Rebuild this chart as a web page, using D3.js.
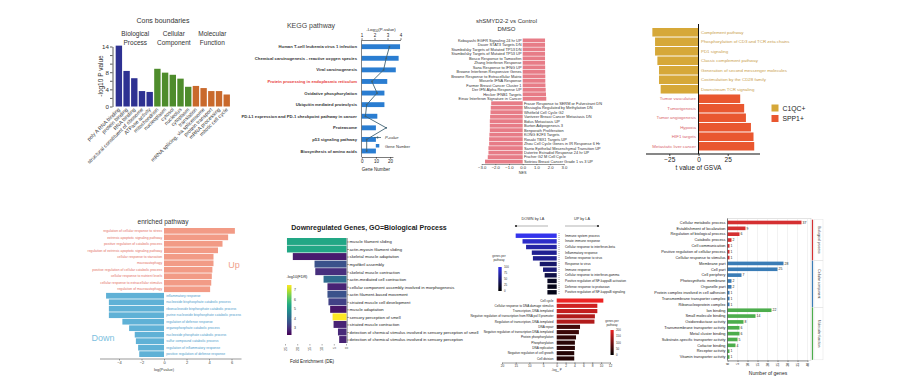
<!DOCTYPE html>
<html><head><meta charset="utf-8">
<script src="https://cdn.jsdelivr.net/npm/d3@7"></script>
<style>body{margin:0;background:#fff} svg{display:block}</style>
</head><body><script>
// ---------------- DATA ----------------
// Panel 1: Cons boundaries
const p1Terms = ["poly A RNA binding","protein binding","RNA binding","structural constituent of ribosome","ATPase activity","mitochondrion","nucleoplasm","cytosol","nucleolus","cytoplasm","translation","mRNA splicing, via spliceosome","protein transport","mRNA processing","mitotic cell cycle"];
const p1LogP = [14.2,8.3,6.6,3.6,3.4,8.8,7.9,7.4,6.5,4.6,4.8,4.3,3.6,3.6,2.8];
const p1Category = ["BP","BP","BP","BP","BP","CC","CC","CC","CC","CC","MF","MF","MF","MF","MF"];
const p1CategoryNames = {BP:["Biological","Process"],CC:["Cellular","Component"],MF:["Molecular","Function"]};
const p1TickLabels = [0,4,8,14];

// Panel 2: KEGG pathway
const p2Pathways = ["Human T-cell leukemia virus 1 infection","Chemical carcinogenesis - reactive oxygen species","Viral carcinogenesis","Protein processing in endoplasmic reticulum","Oxidative phosphorylation","Ubiquitin mediated proteolysis","PD-L1 expression and PD-1 checkpoint pathway in cancer","Proteasome","p53 signaling pathway","Biosynthesis of amino acids"];
const p2GeneNumber = [27,26,24,18,16,16,11,10,10,10];
const p2NegLogP = [3.15,2.9,2.7,1.8,2.2,1.4,1.3,2.9,1.4,1.4];
const p2Highlighted = ["Protein processing in endoplasmic reticulum"];
const p2TopTicks = [1,2,3,4];
const p2BottomTicks = [0,10,20];

// Panel 3: shSMYD2-2 vs Control DMSO
const p3Sets = ["Kobayashi EGFR Signaling 24 hr UP","Dauer STAT3 Targets DN","Stambolsky Targets of Mutated TP53 DN","Stambolsky Targets of Mutated TP53 UP","Bosco Response to Tamoxifen","Zhang Interferon Response","Sana Response to IFNG UP","Browne Interferon Responsive Genes","Browne Response to Extracellular Matrix","Moserle IFNA Response","Farmer Breast Cancer Cluster 1","Der IFN Alpha Response UP","Hecker IFNB1 Targets","Einav Interferon Signature in Cancer",
"Frasor Response to SERM or Fulvestrant DN","Missiaglia Regulated by Methylation DN","Whitfield Cell Cycle G2","Vantveer Breast Cancer Metastasis DN","Bidus Metastasis UP","Burton Adipogenesis 3","Benporath Proliferation","KONG E2F3 Targets","Rosaki TBX1 Targets UP","Zhou Cell Cycle Genes in IR Response 6 Hr","Sarrio Epithelial Mesenchymal Transition UP","Dutertre Estradiol Response 24 hr UP","Fischer G2 M Cell Cycle","Sotiriou Breast Cancer Grade 1 vs 3 UP"];
const p3NES = [1.63,1.63,1.63,1.63,1.63,1.63,1.64,1.64,1.65,1.65,1.66,1.68,1.7,1.72,
-2.3,-2.33,-2.35,-2.38,-2.4,-2.4,-2.4,-2.43,-2.45,-2.45,-2.5,-2.5,-2.55,-2.75];
const p3Ticks = [-3,-2,-1,0,1,2,3];

// Panel 4: t value of GSVA
const p4Pathways = ["Complement pathway","Phosphorylation of CD3 and TCR zeta chains","PD1 signaling","Classic complement pathway","Generation of second messenger molecules","Costimulation by the CD28 family","Downstream TCR signaling","Tumor vasculature","Tumorigenesis","Tumor angiogenesis","Hypoxia","HIF1 targets","Metastatic liver cancer"];
const p4T = [-39.5,-37.2,-37.2,-35.2,-33.8,-33.8,-32.4,35.7,39.1,40.6,44.9,47.1,47.7];
const p4Group = ["C1QC+","C1QC+","C1QC+","C1QC+","C1QC+","C1QC+","C1QC+","SPP1+","SPP1+","SPP1+","SPP1+","SPP1+","SPP1+"];
const p4Legend = ["C1QC+","SPP1+"];
const p4Ticks = [-25,0,25];

// Panel 5: enriched pathway
const p5Terms = ["regulation of cellular response to stress","extrinsic apoptotic signaling pathway","positive regulation of catabolic process","regulation of extrinsic apoptotic signaling pathway","cellular response to starvation","macroautophagy","positive regulation of cellular catabolic process","cellular response to nutrient levels","cellular response to extracellular stimulus","regulation of macroautophagy",
"inflammatory response","nucleoside bisphosphate catabolic process","ribonucleoside bisphosphate catabolic process","purine nucleoside bisphosphate catabolic process","regulation of defense response","organophosphate catabolic process","nucleoside phosphate catabolic process","sulfur compound catabolic process","regulation of inflammatory response","positive regulation of defense response"];
const p5LogP = [6.3,5.7,5.2,4.8,4.4,4.4,4.3,4.25,4.2,4.1,-5.15,-4.9,-4.9,-4.9,-3.7,-3.1,-2.6,-2.5,-2.3,-2.2];
const p5Ticks = [-4,-2,0,2,4,6];

// Panel 6: Downregulated Genes, GO=Biological Process
const p6Terms = ["muscle filament sliding","actin-myosin filament sliding","skeletal muscle adaptation","myofibril assembly","skeletal muscle contraction","actin-mediated cell contraction","cellular component assembly involved in morphogenesis","actin filament-based movement","striated muscle cell development","muscle adaptation","sensory perception of smell","striated muscle contraction","detection of chemical stimulus involved in sensory perception of smell","detection of chemical stimulus involved in sensory perception"];
const p6Fold = [24.4,24.4,22,13.1,12.8,9.4,7.8,7.8,7.4,6.7,5.7,5.3,3.5,3.0];
const p6NegLogFDR = [5.4,5.4,2.7,3.6,3.0,4.1,2.8,3.6,3.3,2.6,7.5,2.8,2.9,2.8];
const p6FoldTicks = [0,5,10,15,20,25];
const p6LegendTicks = [3,4,5,6,7];

// Panel 7: DOWN / UP by LA
const p7DownTerms = ["Immune system process","Innate immune response","Cellular response to interferon-beta","Inflammatory response","Defense response to virus","Response to virus","Immune response","Cellular response to interferon-gamma","Positive regulation of NF-kappaB activation","Defense response to protozoan","Positive regulation of NF-kappaB signaling"];
const p7DownLogP = [15,12.5,11.2,9.1,8.7,6.2,5,4.4,3.4,3.4,3.4];
const p7DownGenes = [100,85,70,62,60,45,50,30,15,10,10];
const p7UpTerms = ["Cell cycle","Cellular response to DNA damage stimulus","Transcription, DNA-templated","Negative regulation of transcription from RNA pol II promoter","Regulation of transcription, DNA-templated","DNA repair","Negative regulation of transcription DNA-templated","Protein phosphorylation","Phosphorylation","DNA replication","Negative regulation of cell growth","Cell division"];
const p7UpLogP = [10.5,9.15,9.15,8.6,8.5,5.25,5.0,4.35,4.1,4.1,3.95,3.95];
const p7UpGenes = [200,175,165,150,150,55,50,40,35,35,30,30];
const p7AxisTicks = [-20,-15,-10,-5,0,2,4,6,8,10,12];
const p7BlueTicks = [0,25,50,75,100];
const p7RedTicks = [0,50,100,150,200];

// Panel 8: Number of genes
const p8Terms = ["Cellular metabolic process","Establishment of localization","Regulation of biological process","Catabolic process","Cell communication","Positive regulation of cellular process","Cellular response to stimulus",
"Membrane part","Cell part","Cell periphery","Photosynthetic membrane","Organelle part","Protein complex involved in cell adhesion","Transmembrane transporter complex","Ribonucleoprotein complex",
"Ion binding","Small molecule binding","Oxidoreductase activity","Transmembrane transporter activity","Metal cluster binding","Substrate-specific transporter activity","Cofactor binding","Receptor activity","Vitamin transporter activity"];
const p8Counts = [37,9,6,2,1,1,1,28,25,7,2,2,1,1,1,22,14,8,6,6,5,4,1,1];
const p8Category = ["Biological process","Biological process","Biological process","Biological process","Biological process","Biological process","Biological process",
"Cellular component","Cellular component","Cellular component","Cellular component","Cellular component","Cellular component","Cellular component","Cellular component",
"Molecular function","Molecular function","Molecular function","Molecular function","Molecular function","Molecular function","Molecular function","Molecular function","Molecular function"];
const p8CategoryOrder = ["Biological process","Cellular component","Molecular function"];
const p8Ticks = [0,5,10,15,20,25,30,35,40];

// ---------------- DRAWING ----------------
const SANS = '"Liberation Sans", Arial, Helvetica, sans-serif';
const NARROW = '"Liberation Sans Narrow", "Liberation Sans", Arial, sans-serif';
const svg = d3.select("body").append("svg").attr("width",900).attr("height",383);
svg.append("rect").attr("width",900).attr("height",383).attr("fill","#fff");

function txt(g,x,y,s,o={}){
  const t=g.append("text").attr("x",x).attr("y",y).text(s)
    .attr("font-family",o.ff||SANS).attr("font-size",o.fs||5)
    .attr("fill",o.fill||"#222").attr("text-anchor",o.anchor||"start");
  if(o.fw) t.attr("font-weight",o.fw);
  if(o.fst) t.attr("font-style",o.fst);
  if(o.rotate!==undefined) t.attr("transform",`rotate(${o.rotate},${x},${y})`);
  if(o.db) t.attr("dominant-baseline",o.db);
  return t;
}
function styleAxis(g,fs,color,sw,ff){
  g.attr("font-size",null).attr("font-family",null);
  g.selectAll("text").attr("font-size",fs).attr("font-family",ff||SANS).attr("fill",color||"#222");
  g.selectAll("line,path").attr("stroke",color||"#222").attr("stroke-width",sw||0.6);
}

// ===== Panel 1 =====
{
  const g=svg.append("g");
  const colors={BP:"#2e3192",CC:"#4e8c2c",MF:"#c9692c"};
  const x=d3.scaleBand().domain(d3.range(p1Terms.length)).range([115.3,230.3]).paddingInner(0.17).paddingOuter(0.05);
  const y=d3.scaleLinear().domain([0,14]).range([106.5,46.5]);
  g.selectAll("rect.b").data(p1LogP).join("rect").attr("class","b")
    .attr("x",(d,i)=>x(i)).attr("width",x.bandwidth())
    .attr("y",d=>y(d)).attr("height",d=>y(0)-y(d))
    .attr("fill",(d,i)=>colors[p1Category[i]]);
  const ax=g.append("g").attr("transform","translate(112.5,0)")
    .call(d3.axisLeft(y).tickValues(d3.range(0,15,2)).tickSize(2.5).tickSizeOuter(0).tickPadding(1)
      .tickFormat(d=>p1TickLabels.includes(d)?d:""));
  styleAxis(ax,6.2,"#333",0.8);
  txt(g,102.5,76,"-log10 P value",{fs:6.5,anchor:"middle",rotate:-90,fill:"#333"});
  p1Terms.forEach((t,i)=>{
    const cx=x(i)+x.bandwidth()/2+1.5;
    txt(g,cx,110,t,{fs:5.2,anchor:"end",rotate:-45,fill:"#333"});
  });
  txt(g,163,23,"Cons boundaries",{fs:7,anchor:"middle",fill:"#333"});
  Object.keys(p1CategoryNames).forEach(k=>{
    const idx=p1Category.map((c,i)=>c===k?i:-1).filter(i=>i>=0);
    const cx=d3.mean(idx,i=>x(i)+x.bandwidth()/2);
    txt(g,cx+1,36,p1CategoryNames[k][0],{fs:6.5,anchor:"middle",fill:"#333"});
    txt(g,cx+1,45,p1CategoryNames[k][1],{fs:6.5,anchor:"middle",fill:"#333"});
  });
}

// ===== Panel 2 =====
{
  const g=svg.append("g");
  const y=d3.scaleBand().domain(d3.range(p2Pathways.length)).range([40.9,156.8]).paddingInner(0.58).paddingOuter(0.29);
  const xG=d3.scaleLinear().domain([0,30]).range([361.7,404.3]);
  const xP=d3.scaleLinear().domain([1,4]).range([361.5,400.5]);
  g.selectAll("rect.b").data(p2GeneNumber).join("rect").attr("class","b")
    .attr("x",xG(0)).attr("y",(d,i)=>y(i)).attr("height",y.bandwidth())
    .attr("width",d=>xG(d)-xG(0)).attr("fill","#2a7dd1");
  const line=d3.line().x(d=>xP(d[0])).y(d=>y(d[1])+y.bandwidth()/2);
  const pts=p2NegLogP.map((v,i)=>[v,i]);
  g.append("path").datum(pts).attr("d",line).attr("fill","none").attr("stroke","#3f6274").attr("stroke-width",0.9);
  g.selectAll("circle.p").data(pts).join("circle").attr("class","p")
    .attr("cx",d=>xP(d[0])).attr("cy",d=>y(d[1])+y.bandwidth()/2).attr("r",0.9).attr("fill","#3f6274");
  g.append("line").attr("x1",361.5).attr("x2",361.5).attr("y1",40).attr("y2",157).attr("stroke","#333").attr("stroke-width",0.6);
  const top=g.append("g").attr("transform","translate(0,40)")
    .call(d3.axisTop(xP).tickValues(p2TopTicks).tickSize(1.8).tickSizeOuter(0).tickPadding(0.8).tickFormat(d3.format("d")));
  styleAxis(top,4.5,"#222",0.6);
  const xB=xG.copy().domain([0,22]).range([xG(0),xG(22)]);
  const bot=g.append("g").attr("transform","translate(0,157)")
    .call(d3.axisBottom(xB).tickValues(p2BottomTicks).tickSize(1.8).tickSizeOuter(0).tickPadding(1));
  styleAxis(bot,4.5,"#222",0.6);
  p2Pathways.forEach((p,i)=>{
    txt(g,357,y(i)+y.bandwidth()/2+1.5,p,{fs:4.2,anchor:"end",fw:"bold",
      fill:p2Highlighted.includes(p)?"#e8413c":"#333"});
  });
  txt(g,311,28,"KEGG pathway",{fs:7,anchor:"middle",fill:"#444"});
  const tt=txt(g,381,31,"-Log",{fs:4.3,anchor:"middle",fill:"#222"});
  tt.append("tspan").attr("font-size",3).attr("dy",1).text("10");
  tt.append("tspan").attr("dy",-1).text("(P-value)");
  txt(g,376,171,"Gene Number",{fs:4.5,anchor:"middle",fill:"#222"});
  g.append("line").attr("x1",374).attr("x2",381).attr("y1",137.5).attr("y2",137.5).attr("stroke","#3f6274").attr("stroke-width",0.8);
  g.append("circle").attr("cx",377.5).attr("cy",137.5).attr("r",1).attr("fill","#3f6274");
  txt(g,385,139,"P-value",{fs:4,fst:"italic",fill:"#333"});
  g.append("rect").attr("x",375.8).attr("y",144).attr("width",3.5).attr("height",3.5).attr("fill","#2a7dd1");
  txt(g,385,147.5,"Gene Number",{fs:4,fill:"#333"});
}

// ===== Panel 3 =====
{
  const g=svg.append("g");
  const y=d3.scaleBand().domain(d3.range(p3Sets.length)).range([38.5,163.5]).paddingInner(0.14);
  const x=d3.scaleLinear().domain([-3,3]).range([481.6,563.8]);
  g.selectAll("rect.b").data(p3NES).join("rect").attr("class","b")
    .attr("x",d=>x(Math.min(0,d))).attr("width",d=>Math.abs(x(d)-x(0)))
    .attr("y",(d,i)=>y(i)).attr("height",y.bandwidth()).attr("fill","#e77c87");
  p3Sets.forEach((s,i)=>{
    const pos=p3NES[i]>0;
    txt(g,pos?x(0)-1.2:x(0)+1.2,y(i)+y.bandwidth()/2+1.4,s,{fs:3.9,anchor:pos?"end":"start",fill:"#333"});
  });
  const ax=g.append("g").attr("transform","translate(0,164)")
    .call(d3.axisBottom(x).tickValues(p3Ticks).tickSize(1.2).tickSizeOuter(0).tickPadding(0.4));
  styleAxis(ax,4.2,"#333",0.5);
  txt(g,522.7,174,"NES",{fs:3.8,anchor:"middle",fill:"#333"});
  txt(g,506.5,22.5,"shSMYD2-2 vs Control",{fs:6,anchor:"middle",fill:"#333"});
  txt(g,506.5,31,"DMSO",{fs:6,anchor:"middle",fill:"#333"});
}

// ===== Panel 4 =====
{
  const g=svg.append("g");
  const colors={"C1QC+":"#d6a838","SPP1+":"#e9572f"};
  const textColors={"C1QC+":"#c9a04c","SPP1+":"#d8636c"};
  const y=d3.scaleBand().domain(d3.range(p4Pathways.length)).range([28,150.5]).paddingInner(0.1);
  const x=d3.scaleLinear().domain([-25,25]).range([669.3,727.7]);
  g.selectAll("rect.b").data(p4T).join("rect").attr("class","b")
    .attr("x",d=>x(Math.min(0,d))).attr("width",d=>Math.abs(x(d)-x(0)))
    .attr("y",(d,i)=>y(i)).attr("height",y.bandwidth()).attr("fill",(d,i)=>colors[p4Group[i]]);
  g.append("line").attr("x1",x(0)).attr("x2",x(0)).attr("y1",24).attr("y2",154).attr("stroke","#111").attr("stroke-width",1);
  const ax=g.append("g").attr("transform","translate(0,154)")
    .call(d3.axisBottom(x).tickValues(p4Ticks).tickSize(2).tickSizeOuter(0).tickPadding(1));
  styleAxis(ax,6.5,"#222",0.8);
  ax.select(".domain").remove();
  g.append("line").attr("x1",646).attr("x2",760).attr("y1",154).attr("y2",154).attr("stroke","#111").attr("stroke-width",1.2);
  txt(g,x(0),169.5,"t value of GSVA",{fs:6.5,anchor:"middle",fill:"#222"});
  p4Pathways.forEach((p,i)=>{
    const neg=p4T[i]<0;
    txt(g,neg?x(0)+2.5:x(0)-2.5,y(i)+y.bandwidth()/2+1.5,p,{fs:4.4,anchor:neg?"start":"end",fill:textColors[p4Group[i]]});
  });
  p4Legend.forEach((l,i)=>{
    g.append("rect").attr("x",771.5).attr("y",104.5+i*10.5).attr("width",7).attr("height",7).attr("fill",colors[l]);
    txt(g,782.5,110.5+i*10.5,l,{fs:6.8,fill:"#222"});
  });
}

// ===== Panel 5 =====
{
  const g=svg.append("g");
  const y=d3.scaleBand().domain(d3.range(p5Terms.length)).range([228,357]).paddingInner(0.12);
  const x=d3.scaleLinear().domain([-4,6]).range([119,231.5]);
  g.selectAll("rect.b").data(p5LogP).join("rect").attr("class","b")
    .attr("x",d=>x(Math.min(0,d))).attr("width",d=>Math.abs(x(d)-x(0)))
    .attr("y",(d,i)=>y(i)).attr("height",y.bandwidth()).attr("fill",d=>d>0?"#f29b86":"#5fb1d6");
  p5Terms.forEach((t,i)=>{
    const up=p5LogP[i]>0;
    txt(g,up?x(0)-1.8:x(0)+2.2,y(i)+y.bandwidth()/2+1.2,t,{fs:3.4,anchor:up?"end":"start",fill:up?"#e4705f":"#4d9ccb"});
  });
  const ax=g.append("g").attr("transform","translate(0,359)")
    .call(d3.axisBottom(x).tickValues(p5Ticks).tickSize(1.5).tickSizeOuter(0).tickPadding(1));
  styleAxis(ax,4,"#444",0.5);
  ax.select(".domain").remove();
  g.append("line").attr("x1",100).attr("x2",241.5).attr("y1",359).attr("y2",359).attr("stroke","#555").attr("stroke-width",0.6);
  txt(g,x(0),371,"log(Pvalue)",{fs:4,anchor:"middle",fill:"#444"});
  txt(g,163,224,"enriched pathway",{fs:6.5,anchor:"middle",fill:"#333"});
  txt(g,234,268,"Up",{fs:9,anchor:"middle",fill:"#f0a08c"});
  txt(g,103,341,"Down",{fs:9,anchor:"middle",fill:"#7dbfe0"});
}

// ===== Panel 6 =====
{
  const g=svg.append("g");
  const y=d3.scaleBand().domain(d3.range(p6Terms.length)).range([238,343]).paddingInner(0.08);
  const x=d3.scaleLinear().domain([0,25]).range([346.5,285.5]);
  const c=d3.scaleSequential(d3.interpolateViridis).domain([2.3,7.5]);
  g.selectAll("rect.b").data(p6Fold).join("rect").attr("class","b")
    .attr("x",d=>x(d)).attr("width",d=>x(0)-x(d))
    .attr("y",(d,i)=>y(i)).attr("height",y.bandwidth()).attr("fill",(d,i)=>c(p6NegLogFDR[i]));
  const yAx=d3.scalePoint().domain(p6Terms).range([y(0)+y.bandwidth()/2,y(p6Terms.length-1)+y.bandwidth()/2]);
  const ax=g.append("g").attr("transform","translate(347.2,0)")
    .call(d3.axisRight(yAx).tickSize(1.6).tickSizeOuter(0).tickPadding(0.8));
  styleAxis(ax,4.2,"#222",0.5,NARROW);
  ax.select(".domain").attr("d",`M0,${y(0)}V${y(p6Terms.length-1)+y.bandwidth()}`);
  p6FoldTicks.forEach(t=>{
    g.append("line").attr("x1",x(t)).attr("x2",x(t)).attr("y1",344).attr("y2",345.5).attr("stroke","#333").attr("stroke-width",0.4);
    txt(g,x(t)+1.2,347,t,{fs:3.6,anchor:"end",rotate:-90,fill:"#333"});
  });
  txt(g,312,363,"Fold Enrichment (DE)",{fs:4.6,anchor:"middle",fill:"#222",ff:NARROW});
  txt(g,369,230,"Downregulated Genes, GO=Biological Process",{fs:7,anchor:"middle",fill:"#222",fw:"bold",ff:NARROW});
  const defs=svg.append("defs");
  const grad=defs.append("linearGradient").attr("id","vir").attr("x1",0).attr("x2",0).attr("y1",1).attr("y2",0);
  d3.range(0,1.0001,0.1).forEach(t=>grad.append("stop").attr("offset",t).attr("stop-color",d3.interpolateViridis(t)));
  const lY=d3.scaleLinear().domain([2.3,7.5]).range([335,285]);
  g.append("rect").attr("x",287).attr("y",285).attr("width",4.5).attr("height",50).attr("fill","url(#vir)");
  p6LegendTicks.forEach(t=>{
    g.append("line").attr("x1",291.5).attr("x2",292.5).attr("y1",lY(t)).attr("y2",lY(t)).attr("stroke","#fff").attr("stroke-width",0.3);
    txt(g,294,lY(t)+1.2,t,{fs:3.5,fill:"#333"});
  });
  txt(g,286.5,278,"-log10(FDR)",{fs:3.8,fill:"#222",ff:NARROW});
}

// ===== Panel 7 =====
{
  const g=svg.append("g");
  const x=d3.scaleLinear().domain([-20,0,12]).range([502,556.7,610]);
  const yD=d3.scaleBand().domain(d3.range(p7DownTerms.length)).range([233.5,294.5]).paddingInner(0.22);
  const yU=d3.scaleBand().domain(d3.range(p7UpTerms.length)).range([298.5,360.5]).paddingInner(0.22);
  const cB=d3.scaleLinear().domain([0,100]).range(["#000000","#3434ec"]);
  const cR=d3.scaleLinear().domain([0,200]).range(["#000000","#ec2424"]);
  g.selectAll("rect.d").data(p7DownLogP).join("rect").attr("class","d")
    .attr("x",d=>x(-d)).attr("width",d=>x(0)-x(-d))
    .attr("y",(d,i)=>yD(i)).attr("height",yD.bandwidth()).attr("fill",(d,i)=>cB(p7DownGenes[i]));
  g.selectAll("rect.u").data(p7UpLogP).join("rect").attr("class","u")
    .attr("x",x(0)).attr("width",d=>x(d)-x(0))
    .attr("y",(d,i)=>yU(i)).attr("height",yU.bandwidth()).attr("fill",(d,i)=>cR(p7UpGenes[i]));
  g.append("line").attr("x1",559).attr("x2",559).attr("y1",233).attr("y2",295).attr("stroke","#444").attr("stroke-width",0.5).attr("stroke-dasharray","1,1");
  p7DownTerms.forEach((t,i)=>txt(g,565,yD(i)+yD.bandwidth()/2+1.1,t,{fs:3.2,fill:"#222"}));
  p7UpTerms.forEach((t,i)=>txt(g,553.5,yU(i)+yU.bandwidth()/2+1.1,t,{fs:3.1,anchor:"end",fill:"#222"}));
  const ax=g.append("g").attr("transform","translate(0,362.5)")
    .call(d3.axisBottom(x).tickValues(p7AxisTicks).tickSize(1.5).tickSizeOuter(0).tickPadding(0.8).tickFormat(d=>Math.abs(d)));
  styleAxis(ax,3.2,"#333",0.5);
  const at=txt(g,556.7,371,"-log",{fs:3,anchor:"middle",fill:"#333"});
  at.append("tspan").attr("font-size",2.2).attr("dy",0.8).text("10");
  at.append("tspan").attr("dy",-0.8).text(" P");
  txt(g,533,219.5,"DOWN by LA",{fs:3.8,anchor:"middle",fill:"#333"});
  txt(g,582,219.5,"UP by LA",{fs:3.8,anchor:"middle",fill:"#333"});
  [[548,516],[565,598]].forEach(([a,b])=>{
    g.append("line").attr("x1",a).attr("x2",b).attr("y1",226).attr("y2",226).attr("stroke","#666").attr("stroke-width",0.5);
    g.append("circle").attr("cx",b).attr("cy",226).attr("r",1.1).attr("fill","#222");
  });
  const defs=svg.append("defs");
  const gb=defs.append("linearGradient").attr("id","gblue").attr("x1",0).attr("x2",0).attr("y1",1).attr("y2",0);
  gb.append("stop").attr("offset",0).attr("stop-color",cB(0));
  gb.append("stop").attr("offset",1).attr("stop-color",cB(100));
  const gr=defs.append("linearGradient").attr("id","gred").attr("x1",0).attr("x2",0).attr("y1",1).attr("y2",0);
  gr.append("stop").attr("offset",0).attr("stop-color",cR(0));
  gr.append("stop").attr("offset",1).attr("stop-color",cR(200));
  const lb=d3.scaleLinear().domain([0,100]).range([291,267]);
  g.append("rect").attr("x",498.3).attr("y",267).attr("width",3.4).attr("height",24).attr("fill","url(#gblue)");
  p7BlueTicks.forEach(t=>txt(g,504,lb(t)+1,t,{fs:2.9,fill:"#333"}));
  txt(g,499,257,"genes per",{fs:3,anchor:"middle",fill:"#333"});
  txt(g,499,261,"pathway",{fs:3,anchor:"middle",fill:"#333"});
  const lr=d3.scaleLinear().domain([0,200]).range([355,330]);
  g.append("rect").attr("x",610.5).attr("y",330).attr("width",3.2).attr("height",25).attr("fill","url(#gred)");
  p7RedTicks.forEach(t=>txt(g,616,lr(t)+1,t,{fs:2.9,fill:"#333"}));
  txt(g,612,321.5,"genes per",{fs:3,anchor:"middle",fill:"#333"});
  txt(g,612,325.5,"pathway",{fs:3,anchor:"middle",fill:"#333"});
}

// ===== Panel 8 =====
{
  const g=svg.append("g");
  const colors={"Biological process":"#d42f31","Cellular component":"#3a7cb6","Molecular function":"#4cad4c"};
  const y=d3.scaleBand().domain(d3.range(p8Terms.length)).range([219.5,360]).paddingInner(0.38).paddingOuter(0.2);
  const x=d3.scaleLinear().domain([0,40]).range([727.5,807.5]);
  g.append("rect").attr("x",727.5).attr("y",218.5).attr("width",83.5).attr("height",142).attr("fill","none").attr("stroke","#c8c8c8").attr("stroke-width",0.5);
  p8Ticks.forEach(t=>g.append("line").attr("x1",x(t)).attr("x2",x(t)).attr("y1",218.5).attr("y2",360.5).attr("stroke","#e4e4e4").attr("stroke-width",0.5));
  g.selectAll("rect.b").data(p8Counts).join("rect").attr("class","b")
    .attr("x",x(0)).attr("width",d=>x(d)-x(0)).attr("y",(d,i)=>y(i)).attr("height",y.bandwidth())
    .attr("fill",(d,i)=>colors[p8Category[i]]);
  p8Counts.forEach((d,i)=>txt(g,x(d)+1,y(i)+y.bandwidth()/2+1.2,d,{fs:3.4,fill:"#222"}));
  p8Terms.forEach((t,i)=>txt(g,725.5,y(i)+y.bandwidth()/2+1.3,t,{fs:3.9,anchor:"end",fill:"#222"}));
  g.append("line").attr("x1",727.5).attr("x2",727.5).attr("y1",218.5).attr("y2",360.5).attr("stroke","#333").attr("stroke-width",0.6);
  const ax=g.append("g").attr("transform","translate(0,360.5)")
    .call(d3.axisBottom(x).tickValues(p8Ticks).tickSize(1.5).tickSizeOuter(0).tickFormat(""));
  styleAxis(ax,3.3,"#333",0.5);
  p8Ticks.forEach(t=>txt(g,x(t)+1.1,363,t,{fs:3.2,anchor:"end",rotate:-90,fill:"#333"}));
  txt(g,768,375,"Number of genes",{fs:5,anchor:"middle",fill:"#222"});
  p8CategoryOrder.forEach(cat=>{
    const idx=p8Category.map((c,i)=>c===cat?i:-1).filter(i=>i>=0);
    const y0=y(idx[0])-1, y1=y(idx[idx.length-1])+y.bandwidth()+1;
    g.append("line").attr("x1",812.5).attr("x2",812.5).attr("y1",y0).attr("y2",y1).attr("stroke",colors[cat]).attr("stroke-width",1.2);
    g.append("rect").attr("x",814).attr("y",y0).attr("width",9).attr("height",y1-y0).attr("fill","none").attr("stroke","#ddd").attr("stroke-width",0.4);
    txt(g,817.5,(y0+y1)/2,cat,{fs:3.4,anchor:"middle",rotate:90,fill:"#333"});
  });
}
</script></body></html>
